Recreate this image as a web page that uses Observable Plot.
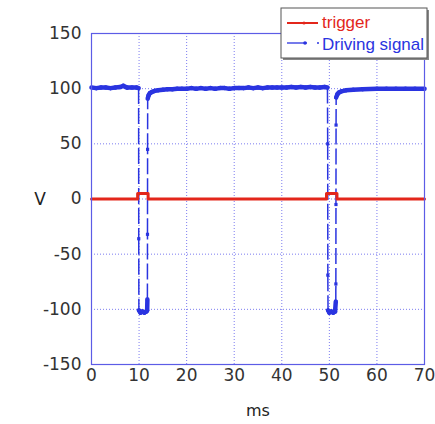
<!DOCTYPE html>
<html>
<head>
<meta charset="utf-8">
<script src="https://cdn.jsdelivr.net/npm/d3@7"></script>
<script src="https://cdn.jsdelivr.net/npm/@observablehq/plot@0.6"></script>
<style>
  html, body { margin: 0; padding: 0; background: #ffffff; }
  #chart { position: relative; width: 435px; height: 424px; }
</style>
</head>
<body>
<div id="chart"></div>
<script>
// ---- data ----
const driveT = [0, 1, 2, 3, 4, 5, 6, 6.7, 7.5, 8.5, 9.5, 9.9,
  9.93, 9.96, 10.3, 10.7, 11.1, 11.5, 11.7, 11.75, 11.77, 11.79, 11.81,
  12.0, 12.3, 12.7, 13.3, 14, 15, 16, 17, 18, 19, 20, 21, 22, 23, 24, 25, 26, 27, 28, 29,
  30, 31, 32, 33, 34, 35, 36, 37, 38, 39, 40, 41, 42, 43, 44, 45, 46, 47, 48, 49, 49.6,
  49.65, 49.68, 49.72, 50.0, 50.4, 50.8, 51.2, 51.35, 51.37, 51.39, 51.41, 51.43,
  51.7, 52, 52.5, 53.5, 55, 57, 60, 62, 64, 66, 68, 70];
const driveV = [101, 100.5, 101, 101, 100.5, 101, 101.5, 102.5, 101, 101, 101, 100.5,
  -36, -101, -103, -102, -103, -102, -101, -91, -32, 45, 91,
  94, 96, 97, 98, 98.5, 99, 99.5, 99.5, 100, 100, 100, 100.5, 100, 100.5, 100, 100.5, 100, 100.5, 100.5, 100,
  100.5, 100.5, 100.5, 101, 100.5, 101, 100.5, 101, 101, 101, 101, 101, 101.5, 101, 101.5, 101, 101.5, 101, 101, 101.5, 101,
  50, -69, -101, -103, -102, -103, -102, -93, -77, -5, 67, 92,
  95, 96.5, 97.5, 98.5, 99, 99.5, 100, 100, 100, 100, 100, 100];
const trigT = [0, 9.7, 9.7, 11.9, 11.9, 49.4, 49.4, 51.6, 51.6, 70];
const trigV = [0, 0, 5, 5, 0, 0, 5, 5, 0, 0];
const xTicks = [0, 10, 20, 30, 40, 50, 60, 70];
const yTicks = [-150, -100, -50, 0, 50, 100, 150];
const seriesNames = ["trigger", "Driving signal"];

const BLUE = "#2a34e0", RED = "#e3261b", GRID = "#7c7cf0", FRAME = "#5c5ce6";

const drive = driveT.map((t, i) => ({t, v: driveV[i]}));
const segs = drive.slice(1).map((d, i) => ({
  t1: drive[i].t, v1: drive[i].v, t2: d.t, v2: d.v,
  big: Math.abs(d.v - drive[i].v) > 10
}));
const trig = trigT.map((t, i) => ({t, v: trigV[i]}));

const plot = Plot.plot({
  width: 435, height: 424,
  marginLeft: 91, marginRight: 11, marginTop: 33, marginBottom: 60,
  style: {fontFamily: "DejaVu Sans", fontSize: "17px", color: "#333", background: "#ffffff"},
  x: {domain: [0, 70], ticks: xTicks, tickSize: 0, tickPadding: 4, label: null, tickFormat: d => String(d)},
  y: {domain: [-150, 150], ticks: yTicks, tickSize: 0, tickPadding: 10, label: null, tickFormat: d => String(d)},
  marks: [
    Plot.ruleX(xTicks.slice(1, -1), {stroke: GRID, strokeDasharray: "1,2", strokeWidth: 1}),
    Plot.ruleY(yTicks.slice(1, -1), {stroke: GRID, strokeDasharray: "1,2", strokeWidth: 1}),
    Plot.link(segs.filter(d => !d.big), {x1: "t1", y1: "v1", x2: "t2", y2: "v2", stroke: BLUE, strokeWidth: 4.5, strokeLinecap: "round"}),
    Plot.link(segs.filter(d => d.big), {x1: "t1", y1: "v1", x2: "t2", y2: "v2", stroke: BLUE, strokeWidth: 1.5, strokeDasharray: "16,4"}),
    Plot.dot(drive, {x: "t", y: "v", symbol: "square", r: 1.8, fill: BLUE}),
    Plot.line(trig, {x: "t", y: "v", stroke: RED, strokeWidth: 3}),
    Plot.frame({stroke: FRAME, strokeWidth: 1.2})
  ]
});

const svg = d3.select(plot);
// axis titles
svg.append("text").attr("x", 258).attr("y", 416).attr("text-anchor", "middle")
  .attr("font-family", "DejaVu Sans").attr("font-size", 16).attr("fill", "#222").text("ms");
svg.append("text").attr("x", 40).attr("y", 205).attr("text-anchor", "middle")
  .attr("font-family", "DejaVu Sans").attr("font-size", 17).attr("fill", "#222").text("V");

// legend
const lg = svg.append("g").attr("text-anchor", "start");
lg.append("rect").attr("x", 283).attr("y", 10).attr("width", 146).attr("height", 50).attr("fill", "#888");
lg.append("rect").attr("x", 281).attr("y", 8).attr("width", 146).attr("height", 50)
  .attr("fill", "#fff").attr("stroke", "#555").attr("stroke-width", 1);
lg.append("line").attr("x1", 287).attr("x2", 318).attr("y1", 23).attr("y2", 23).attr("stroke", RED).attr("stroke-width", 2);
lg.append("circle").attr("cx", 304).attr("cy", 23).attr("r", 1.5).attr("fill", RED);
lg.append("line").attr("x1", 287).attr("x2", 307).attr("y1", 43).attr("y2", 43).attr("stroke", BLUE).attr("stroke-width", 1.3);
lg.append("circle").attr("cx", 305).attr("cy", 43).attr("r", 1.8).attr("fill", BLUE);
lg.append("line").attr("x1", 317).attr("x2", 319).attr("y1", 43).attr("y2", 43).attr("stroke", BLUE).attr("stroke-width", 1.3);
lg.append("text").attr("x", 322).attr("y", 28).attr("text-anchor", "start").attr("font-family", "Liberation Sans").attr("font-size", 17)
  .attr("fill", RED).text(seriesNames[0]);
lg.append("text").attr("x", 322).attr("y", 50).attr("text-anchor", "start").attr("font-family", "Liberation Sans").attr("font-size", 17)
  .attr("fill", BLUE).text(seriesNames[1]);

document.getElementById("chart").appendChild(plot);
</script>
</body>
</html>
